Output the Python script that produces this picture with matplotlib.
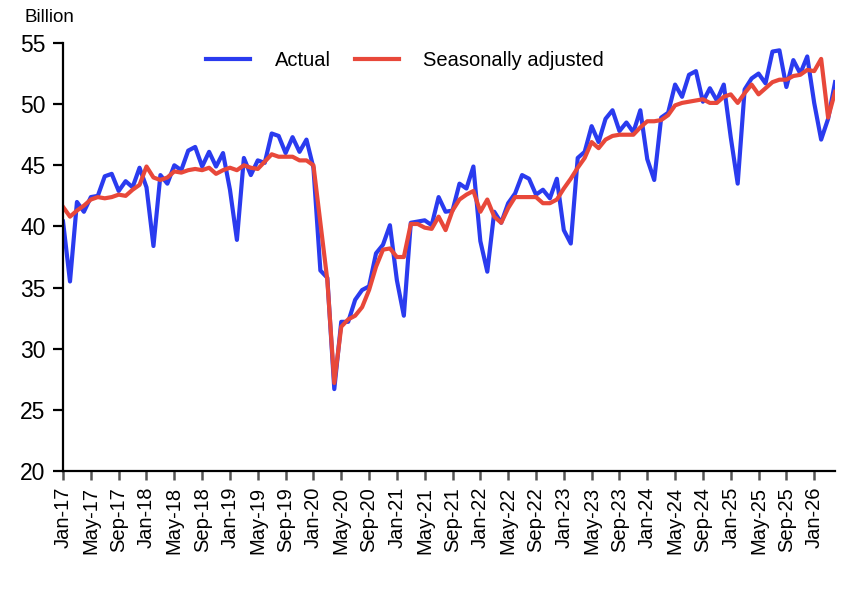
import pandas as pd
import matplotlib
matplotlib.use('Agg')
import matplotlib.pyplot as plt
import numpy as np

plt.rcParams['font.family'] = ['Liberation Sans', 'DejaVu Sans']

# monthly values, Jan-17 .. Apr-26 (billion)
actual = [
    40.4, 35.5, 42.0, 41.2, 42.4, 42.5, 44.1, 44.3, 42.9, 43.7, 43.2, 44.8,  # 2017
    43.2, 38.4, 44.2, 43.5, 45.0, 44.6, 46.2, 46.5, 44.9, 46.1, 44.9, 46.0,  # 2018
    43.0, 38.9, 45.6, 44.2, 45.4, 45.2, 47.6, 47.4, 46.0, 47.3, 46.1, 47.1,  # 2019
    44.8, 36.4, 35.8, 26.7, 32.2, 32.2, 34.0, 34.8, 35.1, 37.8, 38.5, 40.1,  # 2020
    35.6, 32.7, 40.3, 40.4, 40.5, 40.1, 42.4, 41.2, 41.3, 43.5, 43.1, 44.9,  # 2021
    38.8, 36.3, 41.2, 40.3, 41.9, 42.7, 44.2, 43.9, 42.6, 43.0, 42.3, 43.9,  # 2022
    39.7, 38.6, 45.6, 46.1, 48.2, 46.9, 48.8, 49.5, 47.8, 48.5, 47.7, 49.5,  # 2023
    45.5, 43.8, 48.9, 49.3, 51.6, 50.6, 52.4, 52.7, 50.2, 51.3, 50.3, 51.6,  # 2024
    47.3, 43.5, 51.2, 52.1, 52.5, 51.7, 54.3, 54.4, 51.4, 53.6, 52.5, 53.9,  # 2025
    50.1, 47.1, 48.8, 51.8,                                                  # 2026
]
seas_adj = [
    41.6, 40.8, 41.3, 41.7, 42.2, 42.4, 42.3, 42.4, 42.6, 42.5, 43.0, 43.4,
    44.9, 44.0, 43.8, 44.0, 44.5, 44.4, 44.6, 44.7, 44.6, 44.8, 44.3, 44.6,
    44.8, 44.6, 45.0, 44.8, 44.7, 45.3, 45.9, 45.7, 45.7, 45.7, 45.4, 45.4,
    45.0, 40.3, 35.6, 27.2, 31.8, 32.4, 32.7, 33.4, 34.8, 36.7, 38.1, 38.2,
    37.5, 37.5, 40.2, 40.2, 39.9, 39.8, 40.8, 39.7, 41.3, 42.2, 42.6, 42.9,
    41.2, 42.2, 40.8, 40.3, 41.5, 42.4, 42.4, 42.4, 42.4, 41.9, 41.9, 42.2,
    43.1, 43.9, 44.8, 45.6, 46.9, 46.4, 47.1, 47.4, 47.5, 47.5, 47.5, 48.1,
    48.6, 48.6, 48.7, 49.1, 49.9, 50.1, 50.2, 50.3, 50.4, 50.1, 50.1, 50.6,
    50.8, 50.1, 50.9, 51.6, 50.8, 51.3, 51.8, 52.0, 52.0, 52.3, 52.4, 52.8,
    52.7, 53.7, 48.9, 51.0,
]

months = pd.date_range('2017-01-01', periods=len(actual), freq='MS')
tick_labels = [m.strftime('%b-%y') for m in months]

x = np.arange(len(actual))

fig = plt.figure(figsize=(8.6, 5.89), dpi=100)
ax = fig.add_axes([0.0733, 0.2003, 0.8977, 0.7267])

ax.plot(x, actual, color='#2a3bef', lw=3.0, label='Actual', solid_joinstyle='round')
ax.plot(x, seas_adj, color='#e8483a', lw=3.0, label='Seasonally adjusted', solid_joinstyle='round')

ax.set_xlim(0, len(actual) - 1)
ax.set_ylim(20, 55)
ax.set_yticks(np.arange(20, 56, 5))
ax.set_xticks(x[::4])
ax.set_xticklabels(tick_labels[::4], rotation=90)

for s in ['top', 'right']:
    ax.spines[s].set_visible(False)
for s in ['left', 'bottom']:
    ax.spines[s].set_linewidth(1.6)

ax.tick_params(axis='y', direction='out', length=7, width=1.6, pad=5.5, labelsize=16.5)
ax.tick_params(axis='x', direction='out', length=6.5, width=1.8, pad=5, labelsize=14.5, color='#555555')

ax.legend(loc='center', bbox_to_anchor=(0.443, 0.96), ncol=2, frameon=False,
          fontsize=14.5, handlelength=2.2, handletextpad=1.2, columnspacing=1.2)

fig.text(0.029, 0.971, 'Billion', fontsize=13.5, va='center', ha='left')

plt.savefig('out.png', dpi=100)
